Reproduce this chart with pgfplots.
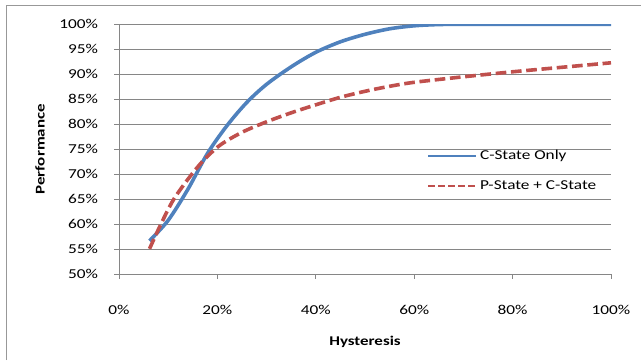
\documentclass[border=0pt]{standalone}
\usepackage{fontspec}
\setmainfont[FakeStretch=1.27]{Carlito}
\usepackage{pgfplots}
\pgfplotsset{compat=1.18}
\definecolor{cblue}{HTML}{4F81BD}
\definecolor{cred}{HTML}{C0504D}
\definecolor{cgrid}{HTML}{868686}
\newcommand{\lfont}{\fontsize{10.2pt}{12pt}\selectfont}
\begin{document}
\begin{tikzpicture}
\useasboundingbox (-89.25pt,-64.275pt) rectangle (391.5pt,205.725pt);
\draw[line width=1.1pt, color=cgrid!85] (-84.2pt,-64.275pt) -- (-84.2pt,201.45pt) -- (391.5pt,201.45pt);
\begin{axis}[
  scale only axis, width=369pt, height=187.5pt,
  xmin=0, xmax=100, ymin=50, ymax=100,
  axis lines=left, axis line style={-, cgrid, line width=0.75pt},
  xtick={0,20,40,60,80,100},
  xticklabels={0\%,20\%,40\%,60\%,80\%,100\%},
  ytick={50,55,60,65,70,75,80,85,90,95,100},
  yticklabels={50\%,55\%,60\%,65\%,70\%,75\%,80\%,85\%,90\%,95\%,100\%},
  ymajorgrids, grid style={cgrid, line width=0.75pt},
  tick align=outside, major tick length=3.5pt,
  tick style={cgrid, line width=0.75pt},
  ticklabel style={font=\lfont},
  xticklabel style={anchor=center, yshift=-23pt},
  yticklabel style={anchor=east, inner sep=0pt, xshift=-12pt},
  xlabel={\textbf{Hysteresis}}, ylabel={\textbf{Performance}},
  label style={font=\lfont},
  every axis x label/.style={at={(axis description cs:0.5,-0.2696)}, anchor=center},
  every axis y label/.style={at={(axis description cs:-0.1606,0.5)}, rotate=90, anchor=center},
  legend style={draw=none, fill=none, font=\lfont, at={(axis description cs:0.626,0.509)}, anchor=north west, inner sep=0pt, row sep=10.6pt},
  legend cell align=left,
]
\addplot[cblue, line width=2.7pt, smooth,
  legend image code/.code={\draw[cblue, line width=1.6pt] (0pt,0pt) -- (36pt,0pt);}]
coordinates {
(6.2,56.7) (10,60.8) (14,67.0) (18,74.2) (22,79.8) (26,84.4) (30,88.0)
(35,91.5) (40,94.4) (45,96.5) (50,98.0) (55,99.1) (60,99.7) (65,99.95) (70,100) (80,100) (90,100) (100,100)
};
\addlegendentry{C-State Only}
\addplot[cred, line width=2.7pt, smooth, dash pattern=on 8pt off 3.5pt,
  legend image code/.code={\draw[cred, line width=1.6pt, dash pattern=on 5.25pt off 2.25pt] (0pt,0pt) -- (36pt,0pt);}]
coordinates {
(6.2,55.1) (8.5,60.0) (11,64.8) (14,69.0) (17,72.6) (20.5,75.8) (25,78.4)
(30,80.5) (35,82.3) (40,83.9) (45,85.4) (50,86.6) (55,87.6) (60,88.4)
(70,89.5) (80,90.5) (90,91.4) (100,92.3)
};
\addlegendentry{P-State + C-State}
\end{axis}
\end{tikzpicture}
\end{document}
